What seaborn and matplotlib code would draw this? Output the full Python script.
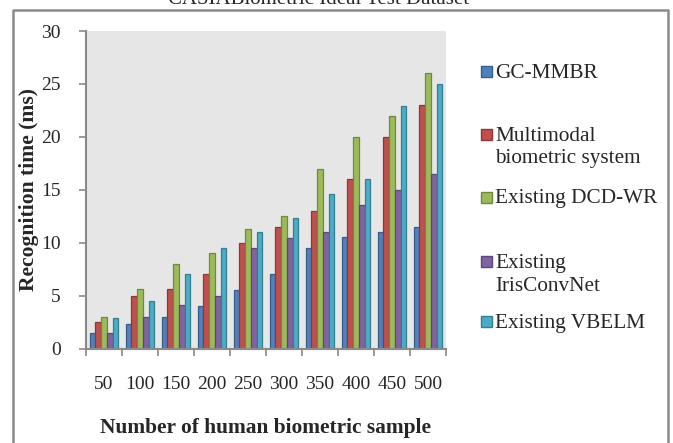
import numpy as np
import pandas as pd
import matplotlib
matplotlib.use("Agg")
import matplotlib.pyplot as plt
from matplotlib.lines import Line2D
from matplotlib.patches import Rectangle
import seaborn as sns

# ── Data ───────────────────────────────────────────────────────────────────────
samples = ["50", "100", "150", "200", "250", "300", "350", "400", "450", "500"]
methods = ["GC-MMBR", "Multimodal\nbiometric system", "Existing DCD-WR",
           "Existing\nIrisConvNet", "Existing VBELM"]

gc_mmbr    = [1.5, 2.3, 3.0, 4.0, 5.5, 7.0, 9.5, 10.5, 11.0, 11.5]
multimodal = [2.5, 5.0, 5.6, 7.0, 10.0, 11.5, 13.0, 16.0, 20.0, 23.0]
dcd_wr     = [3.0, 5.6, 8.0, 9.0, 11.3, 12.5, 17.0, 20.0, 22.0, 26.0]
irisconv   = [1.5, 3.0, 4.1, 5.0, 9.5, 10.4, 11.0, 13.6, 15.0, 16.5]
vbelm      = [2.9, 4.5, 7.0, 9.5, 11.0, 12.3, 14.6, 16.0, 22.9, 25.0]

series = [gc_mmbr, multimodal, dcd_wr, irisconv, vbelm]

colors = ["#4F81BD", "#C0504D", "#9BBB59", "#8064A2", "#4BACC6"]
edges  = ["#385D8A", "#8C3836", "#71893F", "#5C4776", "#357D91"]

df = pd.DataFrame({
    "samples": samples * len(methods),
    "method":  [m for m in methods for _ in samples],
    "time":    [v for s in series for v in s],
})

# ── Style ──────────────────────────────────────────────────────────────────────
sns.set_style("white")
plt.rcParams["font.family"] = ["Liberation Serif", "DejaVu Serif"]
W, H = 673, 443
GRAY = "#8a8a8a"

fig = plt.figure(figsize=(W / 100, H / 100), dpi=100)
ax = fig.add_axes([86 / W, (H - 348.5) / H, (446 - 86) / W, (348.5 - 31) / H])

sns.barplot(data=df, x="samples", y="time", hue="method", order=samples,
            hue_order=methods, palette=colors, saturation=1, width=0.8,
            legend=False, ax=ax)

for cont, ec in zip(ax.containers, edges):
    for bar in cont:
        bar.set_edgecolor(ec)
        bar.set_linewidth(0.9)

ax.set_facecolor("#e6e6e6")
ax.set_ylim(0, 30)
ax.set_xlim(-0.5, len(samples) - 0.5)
ax.set_yticks(np.arange(0, 31, 5))
ax.set_xticks(np.arange(-0.5, len(samples), 1), minor=True)

for side in ["top", "right"]:
    ax.spines[side].set_visible(False)
for side in ["left", "bottom"]:
    ax.spines[side].set_color(GRAY)
    ax.spines[side].set_linewidth(1.5)

ax.tick_params(axis="x", which="major", length=0, pad=20, labelsize=14)
ax.tick_params(axis="x", which="minor", length=5, width=1.2, color=GRAY,
               direction="out", bottom=True)
ax.tick_params(axis="y", length=5, width=1.2, color=GRAY, direction="out",
               left=True, pad=13, labelsize=14)

ax.set_xlabel("Number of human biometric sample", fontsize=15.4, fontweight="bold")
ax.set_ylabel("Recognition time (ms)", fontsize=15.6, fontweight="bold")
ax.xaxis.label.set_va("center")
ax.yaxis.label.set_va("center")
ax.xaxis.set_label_coords(0.5, (348.5 - 428) / 317.5)
ax.yaxis.set_label_coords((29 - 86) / 360, 0.5)

# title (cut at the top in the original)
fig.text(319 / W, 1 - 4 / H, "CASIABiometric Ideal Test Dataset",
         ha="center", va="baseline", fontsize=15)

# outer frame (no bottom edge visible)
fx = [13 / W, 13 / W, 668 / W, 668 / W]
fy = [0, 1 - 10 / H, 1 - 10 / H, 0]
fig.add_artist(Line2D(fx, fy, transform=fig.transFigure, color=GRAY, lw=1.8))

# legend, drawn entry by entry (square sits beside the first line)
leg_y = [71.7, 134, 197, 261.7, 321.7]
for name, c, ec, yy in zip(methods, colors, edges, leg_y):
    fig.add_artist(Rectangle((481 / W, 1 - (yy + 5.5) / H), 11 / W, 11 / H,
                             transform=fig.transFigure, facecolor=c,
                             edgecolor=ec, lw=1))
    fig.text(495 / W, 1 - (yy - 7.5) / H, name, ha="left", va="top",
             fontsize=15.3, linespacing=1.28)

fig.savefig("out.png", dpi=100)
